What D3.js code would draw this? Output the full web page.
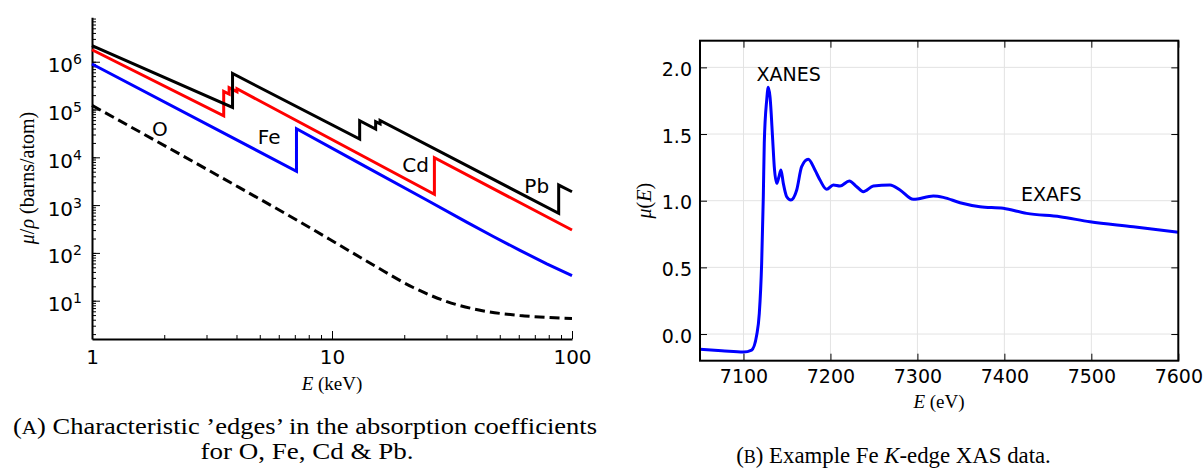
<!DOCTYPE html>
<html>
<head>
<meta charset="utf-8">
<script src="https://cdn.jsdelivr.net/npm/d3@7"></script>
<style>
    body { margin: 0; background: #fff; }
    .sans { font-family: "DejaVu Sans", sans-serif; }
    .serif { font-family: "Liberation Serif", "DejaVu Serif", serif; }
    .axis path, .axis line { stroke: #000; }
</style>
</head>
<body>
<script>
// (A) absorption coefficients, E in keV, mu/rho in barns/atom
const pbE  = [1, 3.851, 3.851, 13.04, 13.04, 15.2, 15.2, 15.86, 15.86, 88.0, 88.0, 100];
const pbMu = [2.18e6, 1.11e5, 5.66e5, 2.42e4, 5.83e4, 3.91e4, 5.56e4, 5.0e4, 5.9e4, 673, 2630, 1905];
const cdE  = [1, 3.538, 3.538, 3.727, 3.727, 4.018, 4.018, 26.71, 26.71, 100];
const cdMu = [1.78e6, 7.4e4, 2.4e5, 2.11e5, 2.86e5, 2.36e5, 2.72e5, 1683, 9810, 301];
const feE  = [1, 7.112, 7.112, 13.1, 24.8, 36.4, 47.0, 60.7, 78.5, 100];
const feMu = [8.95e5, 5100, 3.97e4, 7400, 1279, 440, 220, 113, 59, 33.5];
const oE   = [1, 3.53, 7.36, 9.81, 14.86, 21.8, 30.1, 41.4, 60.7, 100];
const oMu  = [1.22e5, 3580, 443, 191, 55.8, 18.9, 9.6, 6.3, 4.9, 4.24];
const elementNames = ["O", "Fe", "Cd", "Pb"];
const elementLabelE = [1.92, 5.47, 22.3, 71.3];
const elementLabelMu = [2.86e4, 1.9e4, 5.0e3, 1.77e3];
const xTicksA = [1, 10, 100];
const yTicksA = [1e1, 1e2, 1e3, 1e4, 1e5, 1e6];

// (B) Fe K-edge XAS, E in eV
const xasE = [7050, 7075, 7100, 7109.4, 7115.2, 7118.2, 7120.9, 7122.8, 7123.9, 7126.7, 7128.5,
    7130.5, 7133.6, 7135.4, 7138.2, 7140.8, 7143.1, 7145.8, 7149.7, 7154.6, 7161.2, 7166.9,
    7174.5, 7182.2, 7188, 7195.7, 7203.3, 7211, 7221.7, 7230.2, 7237.8, 7249.3, 7268.5, 7280,
    7295.3, 7318.3, 7329.8, 7349, 7372, 7398.7, 7425.6, 7464, 7498.4, 7548.2, 7600];
const xasMu = [-0.115, -0.125, -0.135, -0.12, -0.0075, 0.155, 0.53, 1.03, 1.43, 1.755, 1.85,
    1.78, 1.455, 1.255, 1.13, 1.18, 1.23, 1.13, 1.03, 1.005, 1.08, 1.255,
    1.31, 1.23, 1.155, 1.085, 1.118, 1.11, 1.148, 1.105, 1.068, 1.11, 1.118, 1.08,
    1.01, 1.035, 1.025, 0.985, 0.955, 0.943, 0.905, 0.88, 0.842, 0.805, 0.763];
const xTicksB = [7100, 7200, 7300, 7400, 7500, 7600];
const yTicksB = [0.0, 0.5, 1.0, 1.5, 2.0];
const regionNames = ["XANES", "EXAFS"];
const regionE = [7152, 7454];
const regionMu = [1.9, 1.0];

const svg = d3.select("body").append("svg")
    .attr("width", 1204)
    .attr("height", 468);

// ---------- panel A ----------
const xA = d3.scaleLog().domain([1, 100]).range([92, 572]);
const yA = d3.scaleLog().domain([1.58, 8.5e6]).range([339, 17.3]);

const gA = svg.append("g");

gA.append("g").attr("class", "axis")
    .attr("transform", "translate(0,339)")
    .call(d3.axisBottom(xA).ticks(10).tickSize(-4).tickSizeOuter(0).tickFormat(""))
    .call(g => g.select(".domain").attr("stroke-width", 2));
gA.append("g").attr("class", "axis sans")
    .attr("transform", "translate(0,339)")
    .call(d3.axisBottom(xA).tickValues(xTicksA).tickSize(-8).tickSizeOuter(0).tickPadding(11).tickFormat(d3.format("d")))
    .call(g => g.select(".domain").remove())
    .call(g => g.selectAll("text").attr("font-size", 20).attr("fill", "#000"));

gA.append("g").attr("class", "axis")
    .attr("transform", "translate(92,0)")
    .call(d3.axisLeft(yA).ticks(10).tickSize(-4).tickSizeOuter(0).tickFormat(""))
    .call(g => g.select(".domain").attr("stroke-width", 2));
gA.append("g").attr("class", "axis sans")
    .attr("transform", "translate(92,0)")
    .call(d3.axisLeft(yA).tickValues(yTicksA).tickSize(-8).tickSizeOuter(0).tickPadding(10))
    .call(g => g.select(".domain").remove())
    .call(g => g.selectAll("text")
        .text(null)
        .attr("font-size", 20)
        .attr("fill", "#000")
        .attr("dy", "0.5em")
        .each(function (d) {
            const t = d3.select(this);
            t.append("tspan").text("10");
            t.append("tspan").attr("font-size", 14).attr("dy", -8).text(Math.round(Math.log10(d)));
        }));

const lineA = d3.line()
    .x(d => xA(d[0]))
    .y(d => yA(d[1]));

// O has no edge in range, so it can be drawn smooth
gA.append("path")
    .datum(d3.zip(oE, oMu))
    .attr("d", d3.line().x(d => xA(d[0])).y(d => yA(d[1])).curve(d3.curveMonotoneX))
    .attr("fill", "none").attr("stroke", "#000").attr("stroke-width", 3)
    .attr("stroke-dasharray", "10,5");
[[feE, feMu, "#0000ff"], [cdE, cdMu, "#ff0000"], [pbE, pbMu, "#000"]].forEach(([e, mu, c]) => {
    gA.append("path")
        .datum(d3.zip(e, mu))
        .attr("d", lineA)
        .attr("fill", "none")
        .attr("stroke", c)
        .attr("stroke-width", 3);
});

gA.selectAll("text.elem")
    .data(elementNames)
    .enter()
    .append("text")
    .attr("class", "elem sans")
    .attr("x", (d, i) => xA(elementLabelE[i]))
    .attr("y", (d, i) => yA(elementLabelMu[i]))
    .attr("text-anchor", "middle")
    .attr("font-size", 20)
    .text(d => d);

gA.append("text").attr("class", "serif")
    .attr("transform", "translate(34,178) rotate(-90)")
    .attr("text-anchor", "middle")
    .attr("font-size", 20)
    .html('<tspan font-style="italic">μ</tspan>/<tspan font-style="italic">ρ</tspan> (barns/atom)');

gA.append("text").attr("class", "serif")
    .attr("x", 332).attr("y", 390)
    .attr("text-anchor", "middle")
    .attr("font-size", 19)
    .html('<tspan font-style="italic">E</tspan> (keV)');

// ---------- panel B ----------
const xB = d3.scaleLinear().domain([7050, 7600]).range([700, 1178.3]);
const yB = d3.scaleLinear().domain([-0.2, 2.2]).range([360.7, 40.7]);

const gB = svg.append("g");

gB.append("g")
    .selectAll("line")
    .data(xTicksB.slice(0, -1))
    .enter().append("line")
    .attr("x1", d => xB(d)).attr("x2", d => xB(d))
    .attr("y1", 40.7).attr("y2", 360.7)
    .attr("stroke", "#e3e3e3").attr("stroke-width", 1);
gB.append("g")
    .selectAll("line")
    .data(yTicksB)
    .enter().append("line")
    .attr("x1", 700).attr("x2", 1178.3)
    .attr("y1", d => yB(d)).attr("y2", d => yB(d))
    .attr("stroke", "#e3e3e3").attr("stroke-width", 1);

gB.append("path")
    .datum(d3.zip(xasE, xasMu))
    .attr("d", d3.line().x(d => xB(d[0])).y(d => yB(d[1])).curve(d3.curveMonotoneX))
    .attr("fill", "none")
    .attr("stroke", "#0000ff")
    .attr("stroke-width", 3);

gB.append("g").attr("class", "axis sans")
    .attr("transform", "translate(0,360.7)")
    .call(d3.axisBottom(xB).tickValues(xTicksB).tickSize(-7).tickSizeOuter(0).tickPadding(9).tickFormat(d3.format("d")))
    .call(g => g.selectAll("text").attr("font-size", 19).attr("fill", "#000"));
gB.append("g").attr("class", "axis")
    .attr("transform", "translate(0,40.7)")
    .call(d3.axisTop(xB).tickValues(xTicksB).tickSize(-7).tickSizeOuter(0).tickFormat(""));
gB.append("g").attr("class", "axis sans")
    .attr("transform", "translate(700,0)")
    .call(d3.axisLeft(yB).tickValues(yTicksB).tickSize(-7).tickSizeOuter(0).tickPadding(8).tickFormat(d3.format(".1f")))
    .call(g => g.selectAll("text").attr("font-size", 19).attr("fill", "#000").attr("dy", "0.42em"));
gB.append("g").attr("class", "axis")
    .attr("transform", "translate(1178.3,0)")
    .call(d3.axisRight(yB).tickValues(yTicksB).tickSize(-7).tickSizeOuter(0).tickFormat(""));
gB.selectAll(".domain").remove();

gB.append("rect")
    .attr("x", 700).attr("y", 40.7)
    .attr("width", 478.3).attr("height", 320)
    .attr("fill", "none").attr("stroke", "#000").attr("stroke-width", 2);

gB.selectAll("text.region")
    .data(regionNames)
    .enter()
    .append("text")
    .attr("class", "region sans")
    .attr("x", (d, i) => xB(regionE[i]))
    .attr("y", (d, i) => yB(regionMu[i]))
    .attr("text-anchor", "middle")
    .attr("font-size", 19)
    .text(d => d);

gB.append("text").attr("class", "serif")
    .attr("transform", "translate(651,200.7) rotate(-90)")
    .attr("text-anchor", "middle")
    .attr("font-size", 20)
    .html('<tspan font-style="italic">μ</tspan>(<tspan font-style="italic">E</tspan>)');

gB.append("text").attr("class", "serif")
    .attr("x", 939).attr("y", 408)
    .attr("text-anchor", "middle")
    .attr("font-size", 19)
    .html('<tspan font-style="italic">E</tspan> (eV)');

// ---------- captions ----------
svg.append("text").attr("class", "serif")
    .attr("x", 305).attr("y", 434)
    .attr("text-anchor", "middle")
    .attr("font-size", 24)
    .attr("textLength", 584).attr("lengthAdjust", "spacingAndGlyphs")
    .html('(<tspan font-size="19">A</tspan>) Characteristic ’edges’ in the absorption coefficients');
svg.append("text").attr("class", "serif")
    .attr("x", 307).attr("y", 459)
    .attr("text-anchor", "middle")
    .attr("font-size", 24)
    .attr("textLength", 213).attr("lengthAdjust", "spacingAndGlyphs")
    .text("for O, Fe, Cd & Pb.");
svg.append("text").attr("class", "serif")
    .attr("x", 893.5).attr("y", 463)
    .attr("text-anchor", "middle")
    .attr("font-size", 22.8)
    .html('(<tspan font-size="18">B</tspan>) Example Fe <tspan font-style="italic">K</tspan>-edge XAS data.');
</script>
</body>
</html>
